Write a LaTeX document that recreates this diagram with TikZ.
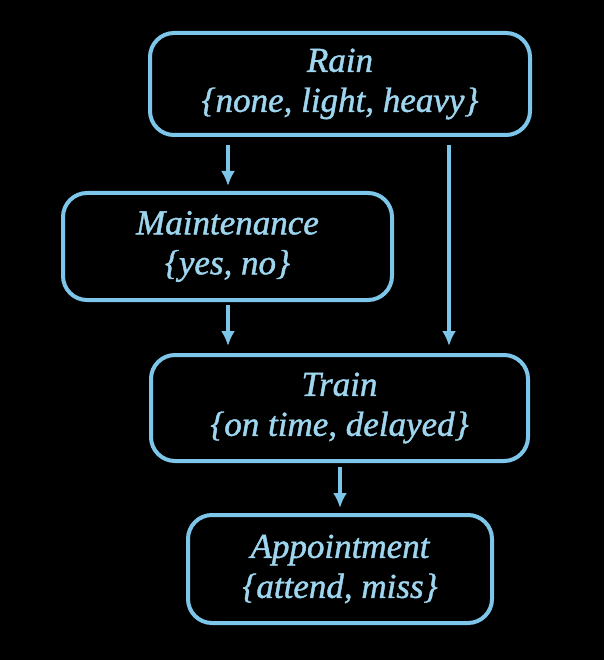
\documentclass[tikz,border=0pt]{standalone}
\usepackage{fontspec}
\setmainfont{Liberation Serif}[ItalicFeatures={FakeBold=1.2}]
\usetikzlibrary{arrows.meta}
\definecolor{edgeblue}{RGB}{125,198,234}
\definecolor{textblue}{RGB}{158,214,240}
\begin{document}
\begin{tikzpicture}[x=1pt,y=-1pt,
  varbox/.style={draw=edgeblue, line width=4pt, rounded corners=24pt,
    inner sep=0pt, align=center, text=textblue,
    font=\fontsize{35}{40}\selectfont\itshape},
  arr/.style={draw=edgeblue, line width=3.5pt, -{Latex[length=15pt,width=14pt]}}]
\fill[black] (0,0) rectangle (604,660);
\useasboundingbox (0,0) rectangle (604,660);
\node[varbox, minimum width=380pt, minimum height=102pt] (rain) at (340,84) {Rain\\\{none, light, heavy\}};
\node[varbox, minimum width=329pt, minimum height=107pt] (maint) at (227.5,246.5) {Maintenance\\\{yes, no\}};
\node[varbox, minimum width=377pt, minimum height=106pt] (train) at (339.5,408) {Train\\\{on time, delayed\}};
\node[varbox, minimum width=304pt, minimum height=108pt] (appt) at (340,569) {Appointment\\\{attend, miss\}};
\coordinate (lx) at (228,0);
\coordinate (rx) at (449,0);
\coordinate (cx) at (340,0);
\draw[arr, shorten <=8pt, shorten >=5pt] (rain.south -| lx) -- (maint.north -| lx);
\draw[arr, shorten <=8pt, shorten >=7pt] (rain.south -| rx) -- (train.north -| rx);
\draw[arr, shorten <=3pt, shorten >=7pt] (maint.south -| lx) -- (train.north -| lx);
\draw[arr, shorten <=4pt, shorten >=5pt] (train.south -| cx) -- (appt.north -| cx);
\end{tikzpicture}
\end{document}
